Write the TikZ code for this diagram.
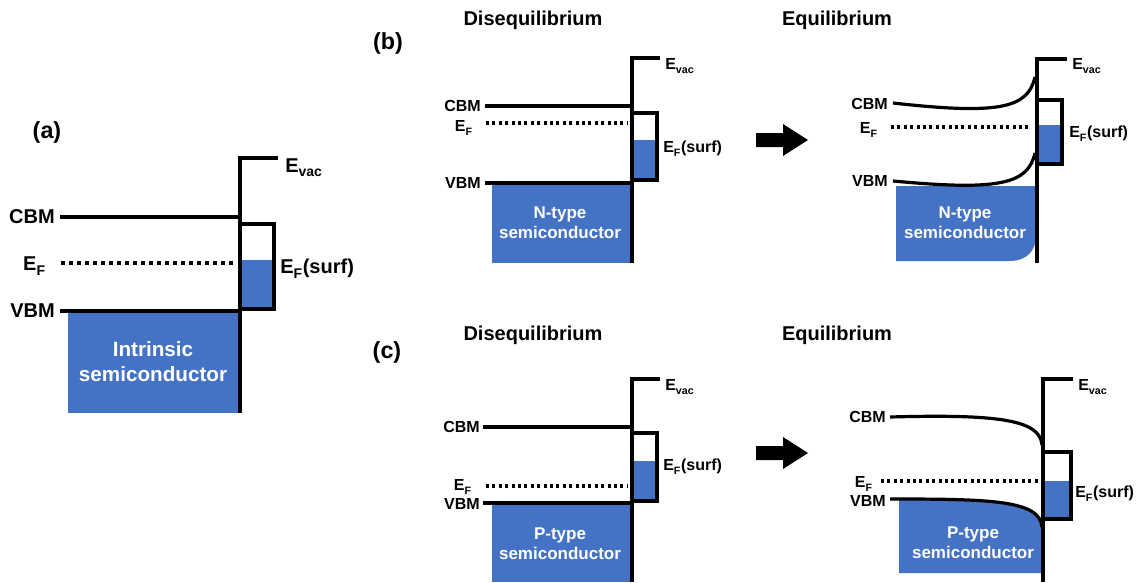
\documentclass[tikz,border=0pt]{standalone}
\usepackage{fontspec}
\setmainfont{Liberation Sans}
\definecolor{fillblue}{HTML}{4472C4}
\newcommand{\lsub}[1]{\raisebox{-0.2ex}{\textsubscript{#1}}}
\begin{document}
\begin{tikzpicture}[x=0.75pt,y=-0.75pt,
 banda/.style={line width=2.9pt},
 bandb/.style={line width=2.4pt},
 dotsa/.style={line width=2.9pt, dash pattern=on 2.8pt off 3.2pt},
 dotsb/.style={line width=2.3pt, dash pattern=on 2.2pt off 2.6pt},
 lbla/.style={font=\bfseries\fontsize{15}{17}\selectfont, inner sep=0pt},
 lblb/.style={font=\bfseries\fontsize{12}{14}\selectfont, inner sep=0pt},
 ttl/.style={font=\bfseries\fontsize{15}{18}\selectfont, inner sep=0pt},
 tag/.style={font=\bfseries\fontsize{17.5}{20}\selectfont, inner sep=0pt},
 semia/.style={text=white, font=\bfseries\fontsize{15.5}{18.75}\selectfont, align=center, inner sep=0pt},
 semib/.style={text=white, font=\bfseries\fontsize{12.75}{15}\selectfont, align=center, inner sep=0pt},
 bigarrow/.style={fill=black},
]
\useasboundingbox (0,0) rectangle (1139,582);

% ---------------- panel (a) ----------------
\node[tag] (taga) at (47,132) {(a)};
\fill[fillblue] (68,311) rectangle (240,413);
\fill[fillblue] (242,260) rectangle (272,308);
\coordinate (aEvR) at (278,158);
\coordinate (aTop) at (240,158);
\coordinate (aBot) at (240,413);
\draw[banda] (aEvR) -- (aTop) -- (aBot);
\draw[banda] (60,217) -- (240,217);
\draw[banda] (240,224) -- (274,224) -- (274,309) -- (240,309);
\draw[banda] (60,311) -- (240,311);
\draw[dotsa] (61,263) -- (236,263);
\node[lbla, anchor=east] (aCBM) at (55,217) {CBM};
\node[lbla, anchor=east] (aVBM) at (55,311) {VBM};
\node[lbla, anchor=base east] (aEF) at (46,270) {E\lsub{F}};
\node[lbla, anchor=base west] (aEvac) at (285,172) {E\lsub{vac}};
\node[lbla, anchor=base west] (aEFs) at (280,273) {E\lsub{F}(surf)};
\node[semia] (aSemi) at (153,362) {Intrinsic\\semiconductor};

% ---------------- panel (b) left ----------------
\node[tag] (tagb) at (388,43) {(b)};
\node[ttl] (bT1) at (533,20) {Disequilibrium};
\fill[fillblue] (492,183) rectangle (630,263);
\fill[fillblue] (633,140) rectangle (655,178);
\draw[bandb] (660,58) -- (632,58) -- (632,263);
\draw[bandb] (485,106) -- (632,106);
\draw[bandb] (632,113) -- (657,113) -- (657,180) -- (632,180);
\draw[bandb] (485,183) -- (632,183);
\draw[dotsb] (486,123) -- (627,123);
\node[lblb, anchor=east] (b1CBM) at (481,106) {CBM};
\node[lblb, anchor=east] (b1VBM) at (481,183) {VBM};
\node[lblb, anchor=base east] (b1EF) at (473,131) {E\lsub{F}};
\node[lblb, anchor=base west] (b1Evac) at (665,69) {E\lsub{vac}};
\node[lblb, anchor=base west] (b1EFs) at (663,152) {E\lsub{F}(surf)};
\node[semib] (b1Semi) at (560,223) {N-type\\semiconductor};

% arrow (b)
\fill[bigarrow] (756,133) -- (783,133) -- (783,124) -- (808,140) -- (783,156) -- (783,147) -- (756,147) -- cycle;

% ---------------- panel (b) right ----------------
\node[ttl] (bT2) at (837,20) {Equilibrium};
\fill[fillblue] (896,186) -- (1036,186) -- (1036,235) .. controls (1036,252) and (1026,261) .. (1009,261) -- (896,261) -- cycle;
\fill[fillblue] (1038.5,125) rectangle (1060.5,163);
\draw[bandb] (1067,59) -- (1037,59) -- (1037,263);
\draw[bandb] (893,103) .. controls (1000,115) and (1028,108) .. (1035,77);
\draw[bandb] (893,181) .. controls (1000,191) and (1028,184) .. (1035,153);
\draw[bandb] (1037,100) -- (1062,100) -- (1062,164) -- (1037,164);
\draw[dotsb] (891,127) -- (1030,127);
\node[lblb, anchor=east] (b2CBM) at (888,104) {CBM};
\node[lblb, anchor=east] (b2VBM) at (888,181) {VBM};
\node[lblb, anchor=base east] (b2EF) at (878,133) {E\lsub{F}};
\node[lblb, anchor=base west] (b2Evac) at (1072,69) {E\lsub{vac}};
\node[lblb, anchor=base west] (b2EFs) at (1069,137) {E\lsub{F}(surf)};
\node[semib] (b2Semi) at (965,223) {N-type\\semiconductor};

% ---------------- panel (c) left ----------------
\node[tag] (tagc) at (387,352) {(c)};
\node[ttl] (cT1) at (533,335) {Disequilibrium};
\fill[fillblue] (492,505) rectangle (630,582);
\fill[fillblue] (633,461) rectangle (655,499);
\draw[bandb] (660,379) -- (632,379) -- (632,582);
\draw[bandb] (483,427) -- (632,427);
\draw[bandb] (632,433) -- (657,433) -- (657,501) -- (632,501);
\draw[bandb] (483,503) -- (632,503);
\draw[dotsb] (486,486) -- (627,486);
\node[lblb, anchor=east] (c1CBM) at (480,427) {CBM};
\node[lblb, anchor=east] (c1VBM) at (480,504) {VBM};
\node[lblb, anchor=base east] (c1EF) at (472,490) {E\lsub{F}};
\node[lblb, anchor=base west] (c1Evac) at (665,390) {E\lsub{vac}};
\node[lblb, anchor=base west] (c1EFs) at (663,470) {E\lsub{F}(surf)};
\node[semib] (c1Semi) at (560,544) {P-type\\semiconductor};

% arrow (c)
\fill[bigarrow] (756,446) -- (783,446) -- (783,437) -- (808,453) -- (783,469) -- (783,460) -- (756,460) -- cycle;

% ---------------- panel (c) right ----------------
\node[ttl] (cT2) at (837,335) {Equilibrium};
\begin{scope}
\clip (899,490) rectangle (1100,582);
\fill[fillblue] (890,500) .. controls (990,500) and (1040,501) .. (1042,528) -- (1042,573) -- (890,573) -- cycle;
\end{scope}
\fill[fillblue] (1045,481) rectangle (1069,518);
\draw[bandb] (1073,379) -- (1043,379) -- (1043,582);
\draw[bandb] (890,417) .. controls (1000,414) and (1040,420) .. (1042,445);
\draw[bandb] (890,499) .. controls (990,499) and (1040,500) .. (1042,527);
\draw[bandb] (1043,452) -- (1071,452) -- (1071,519) -- (1043,519);
\draw[dotsb] (881,481) -- (1038,481);
\node[lblb, anchor=east] (c2CBM) at (886,417) {CBM};
\node[lblb, anchor=east] (c2VBM) at (886,501) {VBM};
\node[lblb, anchor=base east] (c2EF) at (873,487) {E\lsub{F}};
\node[lblb, anchor=base west] (c2Evac) at (1078,390) {E\lsub{vac}};
\node[lblb, anchor=base west] (c2EFs) at (1075,497) {E\lsub{F}(surf)};
\node[semib] (c2Semi) at (973,543) {P-type\\semiconductor};
\end{tikzpicture}
\end{document}
